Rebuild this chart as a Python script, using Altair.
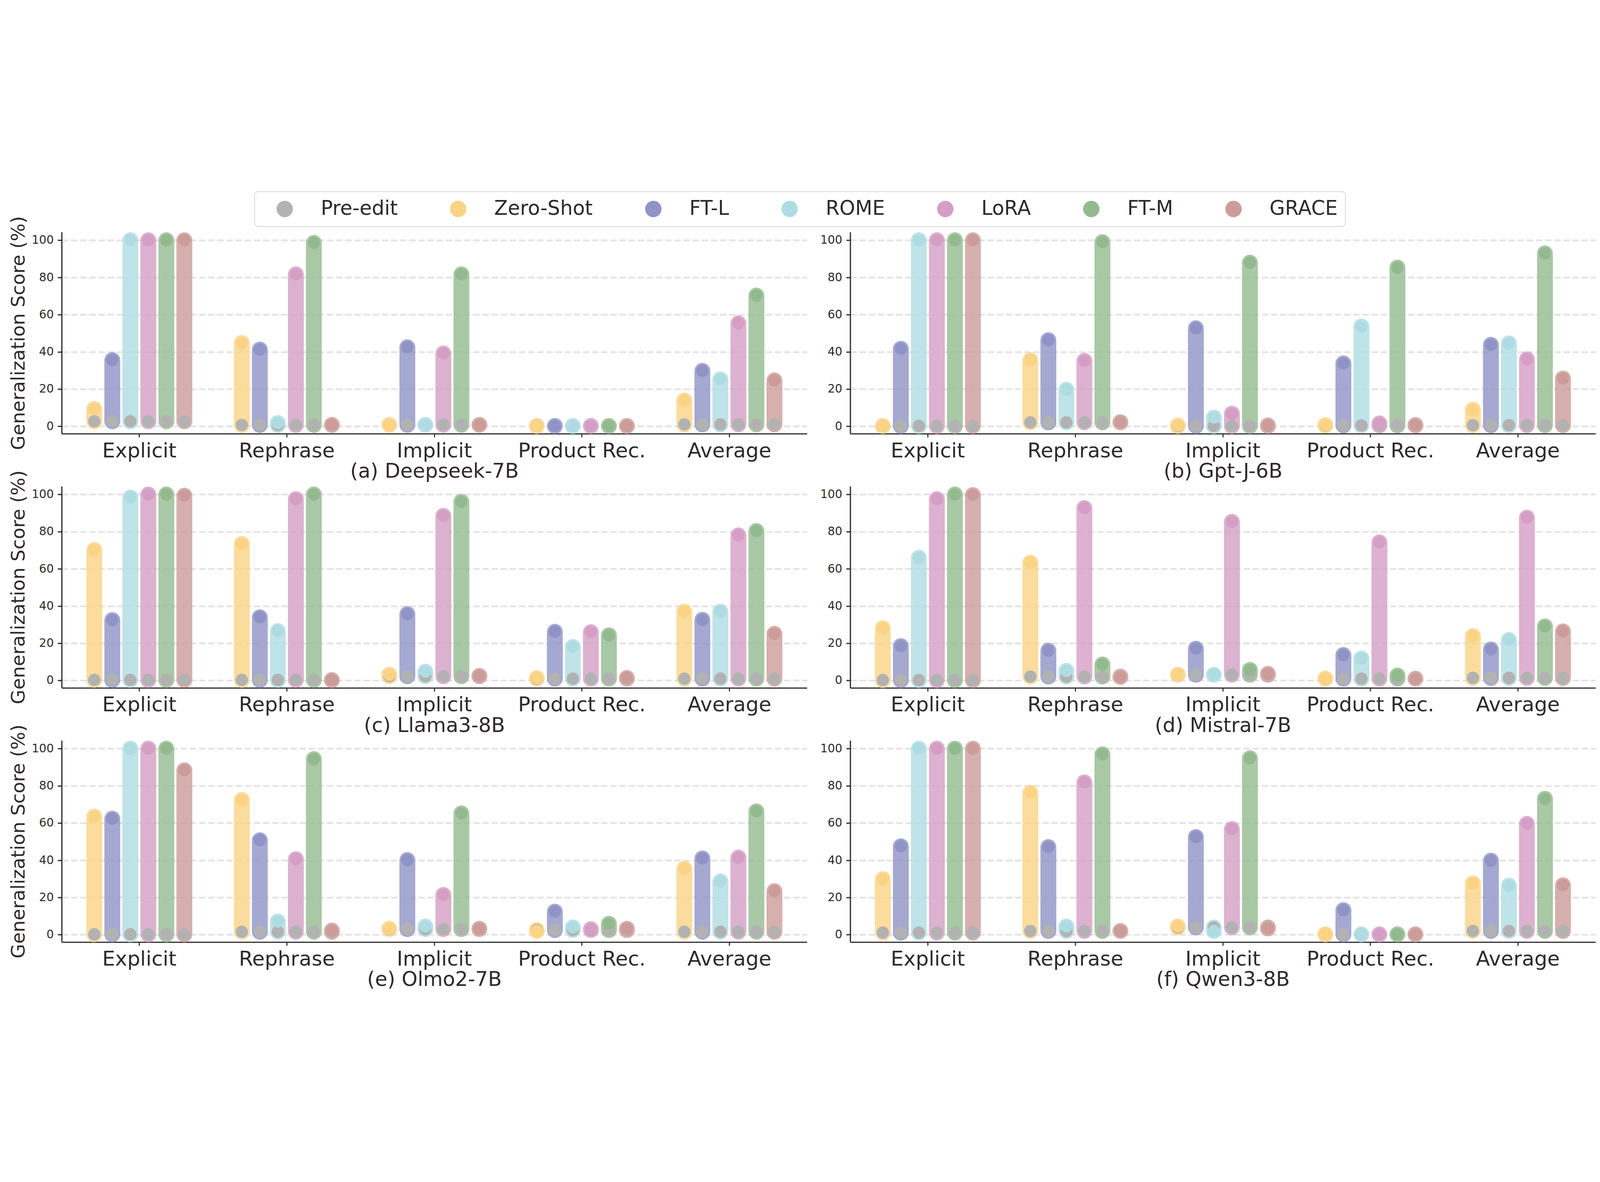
import altair as alt
import pandas as pd

CATEGORIES = ["Explicit", "Rephrase", "Implicit", "Product Rec.", "Average"]
METHODS = ["Zero-Shot", "FT-L", "ROME", "LoRA", "FT-M", "GRACE"]
LEGEND_ORDER = ["Pre-edit"] + METHODS
COLORS = ["#b2b2b2", "#fad385", "#8f93c6", "#aedce2", "#d59ec4", "#93ba8f", "#cc9c9a"]
TXT = "#2e2a29"

# ---- values (per category: Explicit, Rephrase, Implicit, Product Rec., Average)
deepseek_pre = [2.7, 0.7, 0.8, 0.2, 1.0]
deepseek = {
    "Zero-Shot": [9.3, 44.8, 0.8, 0.2, 13.9],
    "FT-L": [35.6, 41.3, 42.5, 0.2, 29.8],
    "ROME": [100, 1.8, 0.8, 0.2, 25.2],
    "LoRA": [100, 81.7, 39.2, 0.2, 55.4],
    "FT-M": [100, 98.6, 81.7, 0.2, 70.3],
    "GRACE": [100, 0.8, 0.8, 0.2, 24.7],
}
gptj_pre = [0.2, 2.1, 0.2, 0.5, 0.6]
gptj = {
    "Zero-Shot": [0.2, 35.5, 0.5, 0.7, 8.9],
    "FT-L": [41.7, 46.3, 52.7, 33.8, 43.8],
    "ROME": [100, 19.7, 4.7, 53.7, 44.6],
    "LoRA": [100, 35.2, 6.8, 1.6, 36.0],
    "FT-M": [100, 99.0, 88.0, 85.3, 93.0],
    "GRACE": [100, 2.2, 0.5, 0.7, 25.7],
}
llama_pre = [0.3, 0.3, 2.3, 1.0, 1.0]
llama = {
    "Zero-Shot": [70.2, 73.4, 3.1, 1.3, 37.0],
    "FT-L": [32.5, 34.0, 35.7, 26.2, 32.6],
    "ROME": [98.4, 26.6, 4.8, 18.0, 37.0],
    "LoRA": [100, 97.5, 88.5, 26.0, 78.0],
    "FT-M": [100, 100, 96.1, 24.3, 80.4],
    "GRACE": [99.4, 0.2, 2.5, 1.4, 25.1],
}
mistral_pre = [0.2, 2.1, 3.1, 1.0, 1.4]
mistral = {
    "Zero-Shot": [28.1, 63.3, 3.1, 1.0, 23.9],
    "FT-L": [18.5, 16.0, 17.1, 13.7, 16.7],
    "ROME": [66.0, 5.2, 3.1, 11.8, 21.8],
    "LoRA": [97.5, 92.7, 85.3, 74.3, 87.6],
    "FT-M": [100, 8.6, 5.7, 2.7, 29.1],
    "GRACE": [99.7, 1.9, 3.6, 1.0, 26.4],
}
olmo_pre = [0.2, 1.6, 3.0, 2.5, 1.6]
olmo = {
    "Zero-Shot": [63.5, 72.4, 3.2, 2.0, 35.5],
    "FT-L": [62.4, 50.8, 40.1, 12.4, 41.0],
    "ROME": [100, 7.1, 4.4, 3.9, 28.7],
    "LoRA": [100, 40.6, 21.4, 3.0, 41.5],
    "FT-M": [100, 94.4, 65.2, 5.9, 66.3],
    "GRACE": [88.4, 2.2, 3.2, 3.2, 23.4],
}
qwen_pre = [1.1, 2.0, 3.9, 0.2, 2.0]
qwen = {
    "Zero-Shot": [29.9, 76.3, 4.4, 0.2, 27.6],
    "FT-L": [47.5, 47.1, 52.5, 13.2, 39.8],
    "ROME": [100, 4.4, 2.0, 0.2, 26.4],
    "LoRA": [100, 81.9, 56.8, 0.2, 59.6],
    "FT-M": [100, 97.0, 94.9, 0.2, 73.1],
    "GRACE": [100, 2.0, 3.4, 0.2, 26.6],
}

PANELS = [
    ("(a) Deepseek-7B", deepseek_pre, deepseek),
    ("(b) Gpt-J-6B", gptj_pre, gptj),
    ("(c) Llama3-8B", llama_pre, llama),
    ("(d) Mistral-7B", mistral_pre, mistral),
    ("(e) Olmo2-7B", olmo_pre, olmo),
    ("(f) Qwen3-8B", qwen_pre, qwen),
]

rows = []
for name, pre, vals in PANELS:
    for ci, cat in enumerate(CATEGORIES):
        for m in METHODS:
            rows.append({"panel": name, "category": cat, "method": m,
                         "value": vals[m][ci], "pre": pre[ci]})
df = pd.DataFrame(rows)

PW, PH = 2772, 750
BAR_W = 59
DOT = 46 * 46
BAND = PW / (5 + 2 * 0.026)
SUB = 67
OFF0 = (BAND - 6 * SUB) / 2

cscale = alt.Scale(domain=LEGEND_ORDER, range=COLORS)
xscale = alt.Scale(domain=CATEGORIES, paddingInner=0, paddingOuter=0.026)
xoscale = alt.Scale(domain=METHODS, paddingInner=0, paddingOuter=0,
                    range=[OFF0, BAND - OFF0])
yscale = alt.Scale(domain=[-4, 104.4], nice=False, zero=False)

legend = alt.Legend(
    orient="none", legendX=717, legendY=-151, direction="horizontal", columns=7,
    title=None, symbolType="circle", symbolSize=3721, symbolOpacity=1,
    symbolStrokeWidth=0, labelFontSize=74, labelLimit=0, labelColor=TXT,
    labelFont="DejaVu Sans", symbolOffset=47.5, labelOffset=97,
    columnPadding=140, padding=28, strokeColor="#e2e2e2", cornerRadius=14,
    fillColor="white",
)


def panel(name, left):
    xaxis = alt.Axis(title=name, labelAngle=0, labelFontSize=76, labelLimit=0,
                     labelOverlap=False, tickSize=13, tickWidth=4, labelPadding=14,
                     titleFontSize=75, titlePadding=2, grid=False)
    yaxis = alt.Axis(title="Generalization Score (%)" if left else None,
                     values=[0, 20, 40, 60, 80, 100], labelFontSize=43,
                     labelPadding=15, tickSize=15, grid=True, gridDash=[24, 10],
                     gridColor="#e3e3e3", gridWidth=6.5, titleFontSize=70,
                     titlePadding=12, titleLimit=3000)
    x = alt.X("category:N", scale=xscale, sort=CATEGORIES, axis=xaxis)
    xo = alt.XOffset("method:N", scale=xoscale, sort=METHODS)
    col_m = alt.Color("method:N", scale=cscale, legend=legend)
    base = alt.Chart(df).transform_filter(alt.datum.panel == name).transform_calculate(
        hi="max(datum.value, datum.pre)", lo="min(datum.value, datum.pre)",
        pre_name="'Pre-edit'")
    bars = base.mark_bar(width=BAR_W, cornerRadius=BAR_W / 2, yOffset=-BAR_W / 2,
                         y2Offset=BAR_W / 2, opacity=0.8).encode(
        x=x, xOffset=xo, y=alt.Y("hi:Q", scale=yscale, axis=yaxis),
        y2="lo:Q", color=col_m)
    pre = base.mark_circle(size=DOT, opacity=1).encode(
        x=x, xOffset=xo, y=alt.Y("pre:Q", scale=yscale, axis=yaxis),
        color=alt.Color("pre_name:N", scale=cscale, legend=legend))
    dots = base.mark_circle(size=DOT, opacity=1).encode(
        x=x, xOffset=xo, y=alt.Y("value:Q", scale=yscale, axis=yaxis),
        color=col_m)
    return alt.layer(bars, pre, dots).properties(width=PW, height=PH)


cells = [panel(PANELS[i][0], i % 2 == 0) for i in range(6)]

body = alt.concat(*cells, columns=2, bounds="flush",
                  spacing=alt.RowColnumber(row=195.5, column=161)).properties(
    padding={"left": 22, "top": 20, "right": 5, "bottom": 5})


def finish(ch, extra):
    return ch.configure_view(stroke=None).configure_axis(
        labelFont="DejaVu Sans", titleFont="DejaVu Sans", labelColor=TXT,
        titleColor=TXT, domainColor=TXT, tickColor=TXT, domainWidth=4.5,
        tickWidth=4.5, titleFontWeight="normal").configure_legend(**extra)


try:
    chart = finish(body, {"strokeWidth": 4})
    chart.to_dict()
except Exception:
    chart = finish(body, {})

chart.save("out.html", embed_options={"renderer": "svg", "actions": False})
